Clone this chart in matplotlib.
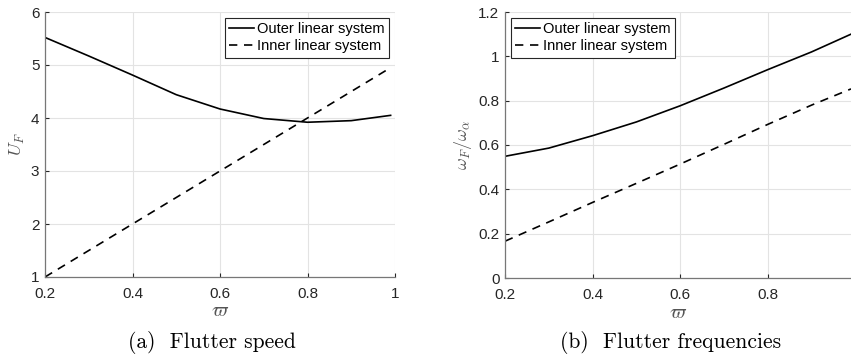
import numpy as np
import matplotlib
matplotlib.use('Agg')
import matplotlib.pyplot as plt

plt.rcParams['mathtext.fontset'] = 'cm'
plt.rcParams['font.family'] = ['Liberation Sans', 'DejaVu Sans']

# ratio of frequencies (varpi)
varpi = [0.2, 0.3, 0.4, 0.5, 0.6, 0.7, 0.8, 0.9, 0.99]

# (a) flutter speed
speed_outer = [5.52, 5.17, 4.81, 4.44, 4.17, 3.99, 3.92, 3.95, 4.05]
speed_inner = [1.0, 1.5, 2.0, 2.5, 3.0, 3.5, 4.0, 4.5, 4.95]

# (b) flutter frequencies
freq_outer = [0.549, 0.586, 0.642, 0.704, 0.777, 0.857, 0.940, 1.020, 1.100]
freq_inner = [0.166, 0.253, 0.341, 0.427, 0.514, 0.603, 0.693, 0.780, 0.853]

fig = plt.figure(figsize=(8.51, 3.58), dpi=100)
ax1 = fig.add_axes([45/851, 1-277/358, 350/851, 265/358])
ax2 = fig.add_axes([505/851, 1-278/358, 346/851, 266/358])


def style(ax):
    ax.grid(True, color='#e3e3e3', lw=0.8)
    ax.set_axisbelow(True)
    for s in ['top', 'right']:
        ax.spines[s].set_visible(False)
    for s in ['left', 'bottom']:
        ax.spines[s].set_color('#777777')
        ax.spines[s].set_linewidth(0.9)
    ax.tick_params(direction='in', length=3, width=0.8, color='#262626',
                   labelsize=11, labelcolor='#262626')
    ax.tick_params(axis='x', pad=7)
    ax.tick_params(axis='y', pad=4)


def legend(ax, loc):
    leg = ax.legend(loc=loc, fontsize=10.5, handlelength=1.7,
                    handletextpad=0.2, borderpad=0.3, labelspacing=0.2,
                    fancybox=False, framealpha=1, borderaxespad=0.4)
    leg.get_frame().set_edgecolor('#262626')
    leg.get_frame().set_linewidth(0.8)


ax1.plot(varpi, speed_outer, 'k-', lw=1.2, label='Outer linear system')
ax1.plot(varpi, speed_inner, 'k-', lw=1.2, dashes=(5, 4), label='Inner linear system')
ax1.set_xlim(0.2, 1.0)
ax1.set_ylim(1, 6)
ax1.set_xticks([0.2, 0.4, 0.6, 0.8, 1.0])
ax1.set_xticklabels(['0.2', '0.4', '0.6', '0.8', '1'])
ax1.set_yticks([1, 2, 3, 4, 5, 6])
ax1.set_xlabel(r'$\varpi$', fontsize=14, color='#555555', labelpad=2)
ax1.set_ylabel(r'$U_F$', fontsize=13, color='#555555', labelpad=3)
style(ax1)
legend(ax1, 'upper right')

ax2.plot(varpi, freq_outer, 'k-', lw=1.2, label='Outer linear system')
ax2.plot(varpi, freq_inner, 'k-', lw=1.2, dashes=(5, 4), label='Inner linear system')
ax2.set_xlim(0.2, 0.99)
ax2.set_ylim(0, 1.2)
ax2.set_xticks([0.2, 0.4, 0.6, 0.8])
ax2.set_xticklabels(['0.2', '0.4', '0.6', '0.8'])
ax2.set_yticks([0, 0.2, 0.4, 0.6, 0.8, 1.0, 1.2])
ax2.set_yticklabels(['0', '0.2', '0.4', '0.6', '0.8', '1', '1.2'])
ax2.set_xlabel(r'$\varpi$', fontsize=14, color='#555555', labelpad=2)
ax2.set_ylabel(r'$\omega_F/\omega_\alpha$', fontsize=13, color='#555555', labelpad=3)
style(ax2)
legend(ax2, 'upper left')

fig.text(212/851, 1-343/358, '(a)  Flutter speed', family='cmr10', fontsize=15.5,
         ha='center', va='center')
fig.text(671/851, 1-343/358, '(b)  Flutter frequencies', family='cmr10', fontsize=15.5,
         ha='center', va='center')

fig.savefig('out.png', dpi=100)
